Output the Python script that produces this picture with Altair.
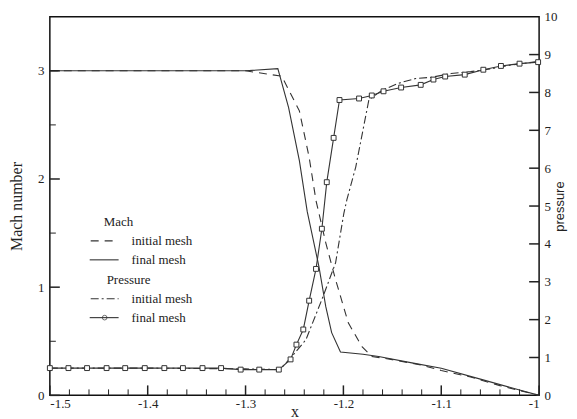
import altair as alt
import pandas as pd

# ---------------- data ----------------
x_mach_final = [-1.5, -1.45, -1.4, -1.35, -1.3, -1.267, -1.256, -1.245, -1.237, -1.225,
                -1.218, -1.212, -1.203, -1.18, -1.164, -1.13, -1.1, -1.06, -1.02, -1.0]
m_final = [3.0, 3.0, 3.0, 3.0, 3.0, 3.02, 2.66, 2.17, 1.7, 1.19,
           0.82, 0.58, 0.40, 0.38, 0.36, 0.30, 0.25, 0.15, 0.05, 0.0]

x_mach_init = [-1.5, -1.4, -1.3, -1.263, -1.245, -1.235, -1.228, -1.218, -1.208, -1.195,
               -1.181, -1.171, -1.15, -1.12, -1.1, -1.07, -1.04, -1.0]
m_init = [3.0, 3.0, 3.0, 2.95, 2.63, 2.2, 1.8, 1.41, 1.07, 0.67,
          0.45, 0.36, 0.33, 0.28, 0.23, 0.17, 0.09, 0.0]

x_p_final = [-1.5, -1.481, -1.462, -1.442, -1.423, -1.403, -1.383, -1.364, -1.344, -1.325,
             -1.305, -1.286, -1.266, -1.254, -1.248, -1.241, -1.235, -1.228, -1.222, -1.217,
             -1.210, -1.204, -1.184, -1.171, -1.159, -1.141, -1.121, -1.108, -1.096, -1.076,
             -1.057, -1.039, -1.020, -1.001]
p_final = [0.72, 0.72, 0.72, 0.72, 0.72, 0.72, 0.72, 0.72, 0.72, 0.72,
           0.68, 0.68, 0.68, 0.95, 1.34, 1.74, 2.5, 3.34, 4.4, 5.63,
           6.8, 7.8, 7.84, 7.92, 8.03, 8.13, 8.2, 8.34, 8.42, 8.47,
           8.6, 8.7, 8.76, 8.8]

x_p_init = [-1.5, -1.4, -1.3, -1.265, -1.2525, -1.2383, -1.222, -1.208, -1.1996, -1.1965,
            -1.1874, -1.174, -1.161, -1.144, -1.126, -1.11, -1.09, -1.07, -1.05, -1.03, -1.0]
p_init = [0.72, 0.72, 0.70, 0.68, 1.03, 1.47, 2.53, 3.5, 4.8, 5.16,
          6.03, 7.8, 8.05, 8.24, 8.37, 8.4, 8.5, 8.55, 8.62, 8.72, 8.82]

x_major = [-1.5, -1.4, -1.3, -1.2, -1.1, -1.0]
x_minor = [-1.48, -1.46, -1.44, -1.42, -1.38, -1.36, -1.34, -1.32, -1.28, -1.26, -1.24, -1.22,
           -1.18, -1.16, -1.14, -1.12, -1.08, -1.06, -1.04, -1.02]
m_major = [0, 1, 2, 3]
m_minor = [0.5, 1.5, 2.5]
p_major = [0, 1, 2, 3, 4, 5, 6, 7, 8, 9, 10]

legend_labels = ["Mach", "initial mesh", "final mesh", "Pressure", "initial mesh", "final mesh"]

# ---------------- styling ----------------
W, H = 491, 380
SERIF = "Liberation Serif"
LC = "#333333"

xs = alt.Scale(domain=[-1.5, -1.0], nice=False, zero=False)
ms = alt.Scale(domain=[0, 3.5], nice=False)
ps = alt.Scale(domain=[0, 10], nice=False)

x_axis = alt.Axis(values=x_major, title="x", ticks=False, domain=False, grid=False,
                  labelExpr="datum.value == -1 ? '-1' : '-' + format(abs(datum.value), '.1f')",
                  labelFont=SERIF, labelFontSize=13, labelColor="#222", labelPadding=2,
                  titleFont=SERIF, titleFontSize=16, titleFontWeight="normal", titleColor="#222",
                  titlePadding=-7)

m_axis = alt.Axis(values=m_major, title="Mach number", ticks=False, domain=False, grid=False,
                  labelFont=SERIF, labelFontSize=13, labelColor="#222", labelPadding=6,
                  titleFont=SERIF, titleFontSize=16, titleFontWeight="normal", titleColor="#222",
                  titlePadding=13)

p_axis = alt.Axis(values=p_major, orient="right", title="pressure", ticks=False, domain=False,
                  grid=False, labelFont=SERIF, labelFontSize=13, labelColor="#222", labelPadding=5,
                  titleFont="Liberation Sans", titleFontSize=13, titleFontWeight="normal",
                  titleColor="#222", titleAngle=-90, titlePadding=9)

mf = pd.DataFrame({"x": x_mach_final, "y": m_final})
mi = pd.DataFrame({"x": x_mach_init, "y": m_init})
pf = pd.DataFrame({"x": x_p_final, "y": p_final})
pi = pd.DataFrame({"x": x_p_init, "y": p_init})

X = lambda f: alt.X(f, scale=xs, axis=x_axis, title="x")
YM = lambda f: alt.Y(f, scale=ms, axis=m_axis, title="Mach number")
YP = lambda f: alt.Y(f, scale=ps, axis=p_axis, title="pressure")

mach_final = alt.Chart(mf).mark_line(color=LC, strokeWidth=1.1).encode(
    x=X("x:Q"), y=YM("y:Q"))
mach_init = alt.Chart(mi).mark_line(color=LC, strokeWidth=1.1, strokeDash=[8, 6]).encode(
    x=X("x:Q"), y=YM("y:Q"))

xmaj = alt.Chart(pd.DataFrame({"x": x_major})).mark_rule(color="#222", strokeWidth=1.5).encode(
    x=X("x:Q"), y=alt.value(H), y2=alt.value(H - 10))
xmin = alt.Chart(pd.DataFrame({"x": x_minor})).mark_rule(color="#222", strokeWidth=1).encode(
    x=X("x:Q"), y=alt.value(H), y2=alt.value(H - 6))
mmaj = alt.Chart(pd.DataFrame({"y": m_major})).mark_rule(color="#222", strokeWidth=1.5).encode(
    y=YM("y:Q"), x=alt.value(0), x2=alt.value(10))
mmin = alt.Chart(pd.DataFrame({"y": m_minor})).mark_rule(color="#222", strokeWidth=1).encode(
    y=YM("y:Q"), x=alt.value(0), x2=alt.value(6))

# legend (decoration)
one = pd.DataFrame({"a": [0]})
def txt(label, x, y):
    return alt.Chart(one).mark_text(font=SERIF, fontSize=13, color="#222", align="left",
                                    baseline="middle").encode(
        x=alt.value(x), y=alt.value(y), text=alt.value(label))

leg = [
    txt(legend_labels[0], 54, 206),
    txt(legend_labels[1], 82, 225),
    txt(legend_labels[2], 82, 244),
    txt(legend_labels[3], 57, 264),
    txt(legend_labels[4], 82, 283),
    txt(legend_labels[5], 82, 302),
    alt.Chart(one).mark_rule(color=LC, strokeWidth=1.1, strokeDash=[8, 6]).encode(
        x=alt.value(41), x2=alt.value(69), y=alt.value(225)),
    alt.Chart(one).mark_rule(color=LC, strokeWidth=1.1).encode(
        x=alt.value(40), x2=alt.value(69), y=alt.value(244)),
    alt.Chart(one).mark_rule(color=LC, strokeWidth=1.1, strokeDash=[8, 3, 2, 3]).encode(
        x=alt.value(41), x2=alt.value(69), y=alt.value(283)),
    alt.Chart(one).mark_rule(color=LC, strokeWidth=1.1).encode(
        x=alt.value(40), x2=alt.value(69), y=alt.value(302)),
    alt.Chart(one).mark_point(shape="circle", filled=False, color=LC, size=22, strokeWidth=1).encode(
        x=alt.value(55), y=alt.value(302)),
]

mach_group = alt.layer(mach_final, mach_init, xmaj, xmin, mmaj, mmin, *leg)

press_final = alt.Chart(pf).mark_line(
    color=LC, strokeWidth=1.1,
    point=alt.OverlayMarkDef(shape="square", filled=False, size=24, color=LC, strokeWidth=1, fill="white"),
).encode(x=X("x:Q"), y=YP("y:Q"))
press_init = alt.Chart(pi).mark_line(color=LC, strokeWidth=1.1, strokeDash=[8, 3, 2, 3]).encode(
    x=X("x:Q"), y=YP("y:Q"))
pmaj = alt.Chart(pd.DataFrame({"y": p_major[1:-1]})).mark_rule(color="#222", strokeWidth=1.5).encode(
    y=YP("y:Q"), x=alt.value(W), x2=alt.value(W - 10))

press_group = alt.layer(press_init, press_final, pmaj)

chart = alt.layer(mach_group, press_group).resolve_scale(y="independent").properties(
    width=W, height=H,
    autosize=alt.AutoSizeParams(type="none"),
    padding={"left": 42, "top": 8, "right": 30, "bottom": 30},
    background="white",
).configure_view(stroke="#111", strokeWidth=1.5).configure_axis(
    labelFont=SERIF, titleFont=SERIF
)

chart.save("out.html", embed_options={"renderer": "svg", "actions": False})
